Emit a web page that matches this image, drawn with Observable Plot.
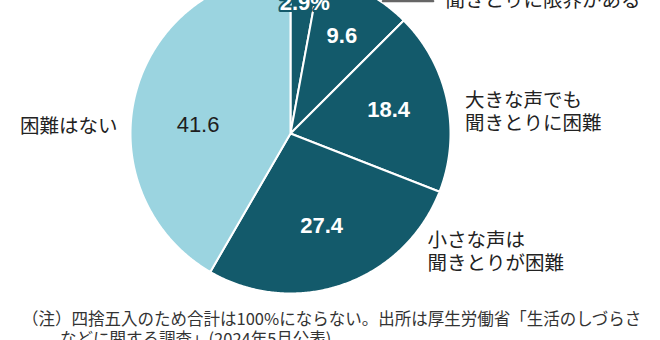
<!DOCTYPE html>
<html><head><meta charset="utf-8">
<script src="https://cdn.jsdelivr.net/npm/d3@7"></script>
<script src="https://cdn.jsdelivr.net/npm/@observablehq/plot@0.6"></script>
<style>
html,body{margin:0;padding:0;background:#fff;}
body{width:660px;height:340px;overflow:hidden;}
#chart svg{display:block;}
.cap{font-family:"Noto Sans CJK JP";font-size:16.5px;color:#333;line-height:20px;padding:8px 0 0 60px;text-indent:-38px;margin:0;white-space:nowrap;}
</style></head><body>
<div id="chart"></div>
<div class="cap">（注）四捨五入のため合計は100%にならない。出所は厚生労働省「生活のしづらさ<br>などに関する調査」(2024年5月公表)</div>
<script>
// ---- data ----
const categories = ["全く聞こえない", "聞きとりに限界がある", "大きな声でも\n聞きとりに困難", "小さな声は\n聞きとりが困難", "困難はない"];
const values = [2.9, 9.6, 18.4, 27.4, 41.6];
const valueLabels = ["2.9%", "9.6", "18.4", "27.4", "41.6"];
const shades = ["dark", "dark", "dark", "dark", "light"];

// ---- layout (style) ----
const DARK = "#135a6b", LIGHT = "#9bd4e0";
const inner = [ {r:0.82, da:1}, {r:0.69, da:0}, {r:0.63, da:-1.5}, {r:0.61, da:0.7}, {r:0.58, da:-10} ];
const outer = [ null, {r:1.28, a:49.2, anchor:"start"}, {r:1.10, a:82.8, anchor:"start"}, {r:1.13, a:130.7, anchor:"start"}, {r:1.082, a:272.6, anchor:"end"} ];

const rows = categories.map((c,i)=>({name:c, value:values[i], label:valueLabels[i], shade:shades[i]}));
const arcs = d3.pie().sort(null).value(d=>d.value).startAngle(0).endAngle(2*Math.PI)(rows);
const polar = (a, r) => ({x: r*Math.sin(a), y: r*Math.cos(a)});
const deg = Math.PI/180;

const poly = [];
arcs.forEach((p,i)=>{
  poly.push({k:i, shade:p.data.shade, x:0, y:0});
  const n = Math.max(2, Math.ceil((p.endAngle-p.startAngle)/(deg/2)));
  for (let j=0;j<=n;j++){
    const a = p.startAngle + (p.endAngle-p.startAngle)*j/n;
    poly.push({k:i, shade:p.data.shade, ...polar(a,1)});
  }
  poly.push({k:i, shade:p.data.shade, x:0, y:0});
});

const innerLabels = arcs.map((p,i)=>{
  const mid = (p.startAngle+p.endAngle)/2 + inner[i].da*deg;
  return {...polar(mid, inner[i].r), label:p.data.label, i};
});
const outerLabels = arcs.map((p,i)=> outer[i] ? {...polar(outer[i].a*deg, outer[i].r), label:p.data.name, anchor:outer[i].anchor} : null).filter(d=>d);

// leader line for the 9.6 slice: from the rim at 34.2deg horizontally out
const ls = polar(34.2*deg, 1);
const leader = [{x:ls.x+0.015, y:ls.y}, {x:ls.x+0.33, y:ls.y}];

const numFont = "'Liberation Sans', Arial, sans-serif";
const jpFont = "'Noto Sans CJK JP', sans-serif";

const plot = Plot.plot({
  width: 660, height: 300, margin: 0,
  x: {domain:[-1,1], range:[130,450], axis:null},
  y: {domain:[-1,1], range:[293,-27], axis:null},
  color: {domain:["dark","light"], range:[DARK, LIGHT]},
  marks: [
    Plot.line(poly, {x:"x", y:"y", z:"k", fill:"shade", stroke:"white", strokeWidth:2, strokeLinejoin:"round", curve:"linear"}),
    Plot.line(leader, {x:"x", y:"y", stroke:"#666", strokeWidth:2.2}),
    Plot.text(innerLabels.filter(d=>d.i===0), {x:"x", y:"y", text:"label", fill:"white", stroke:DARK, strokeWidth:4, fontSize:22, fontWeight:"bold", fontFamily:numFont}),
    Plot.text(innerLabels.filter(d=>d.i>0 && d.i<4), {x:"x", y:"y", text:"label", fill:"white", fontSize:22, fontWeight:"bold", fontFamily:numFont, style:"letter-spacing:1px"}),
    Plot.text(innerLabels.filter(d=>d.i===4), {x:"x", y:"y", text:"label", fill:"#1e1e1e", fontSize:22, fontFamily:numFont}),
    Plot.text(outerLabels.filter(d=>d.anchor==="start"), {x:"x", y:"y", text:"label", textAnchor:"start", fill:"#222", fontSize:19.5, lineHeight:1.16, fontFamily:jpFont}),
    Plot.text(outerLabels.filter(d=>d.anchor==="end"), {x:"x", y:"y", text:"label", textAnchor:"end", fill:"#222", fontSize:19.5, lineHeight:1.16, fontFamily:jpFont})
  ]
});
document.getElementById("chart").appendChild(plot);
</script>
</body></html>
